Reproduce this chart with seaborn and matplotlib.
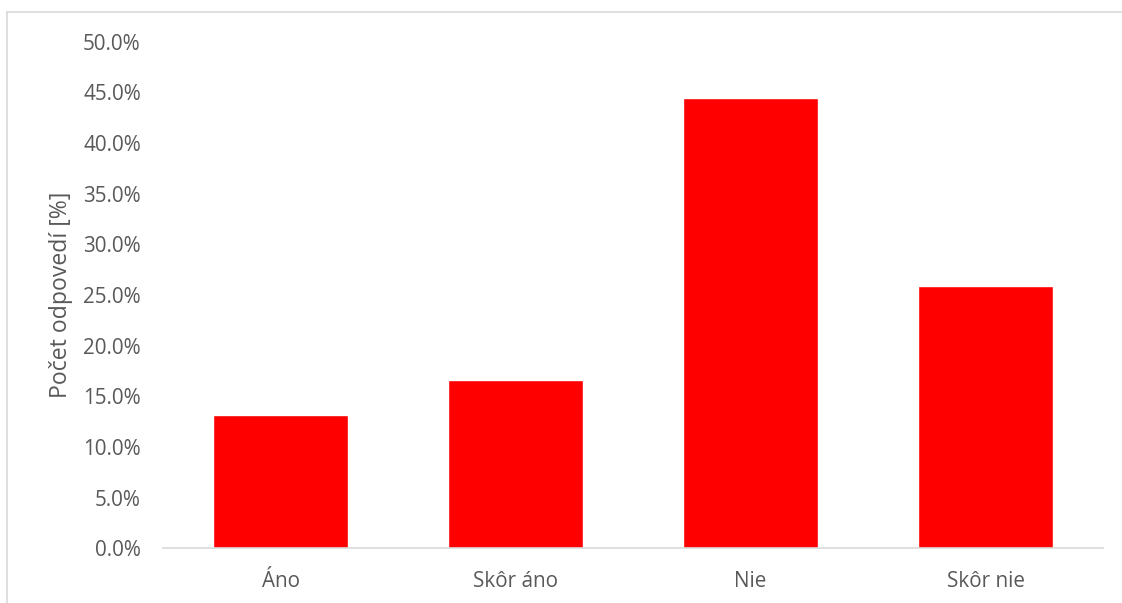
import seaborn as sns
import matplotlib.pyplot as plt
from matplotlib.ticker import PercentFormatter, MultipleLocator
from matplotlib.lines import Line2D

# Answers and share of responses (in %)
answers = ["Áno", "Skôr áno", "Nie", "Skôr nie"]
shares = [13.2, 16.6, 44.4, 25.9]

sns.set_theme(style="white")
plt.rcParams["font.family"] = ["Open Sans", "DejaVu Sans"]

text_gray = "#595959"
line_gray = "#d9d9d9"

fig = plt.figure(figsize=(11.22, 6.03), dpi=100)
ax = fig.add_axes([0.1453, 0.0907, 0.8378, 0.8401])

sns.barplot(x=answers, y=shares, color="#ff0000", width=0.572, saturation=1, ax=ax)

ax.set_ylim(0, 50)
ax.set_xlim(-0.5, 3.5)
ax.yaxis.set_major_locator(MultipleLocator(5))
ax.yaxis.set_major_formatter(PercentFormatter(decimals=1))

ax.set_ylabel("Počet odpovedí [%]", fontsize=16.6, color=text_gray, labelpad=7)
ax.set_xlabel("")
ax.tick_params(axis="y", length=0, pad=16, labelsize=14.9, labelcolor=text_gray)
ax.tick_params(axis="x", length=0, pad=16, labelsize=14.9, labelcolor=text_gray)

for side in ["top", "left", "right"]:
    ax.spines[side].set_visible(False)
ax.spines["bottom"].set_color(line_gray)
ax.spines["bottom"].set_linewidth(1.2)

# outer chart border (only top and left are visible in the picture)
top_y = 1 - 12.3 / 603
left_x = 6.5 / 1122
fig.add_artist(Line2D([left_x, 1.0], [top_y, top_y], transform=fig.transFigure,
                      color=line_gray, linewidth=1.2))
fig.add_artist(Line2D([left_x, left_x], [0.0, top_y], transform=fig.transFigure,
                      color=line_gray, linewidth=1.2))

plt.savefig("out.png", dpi=100)
